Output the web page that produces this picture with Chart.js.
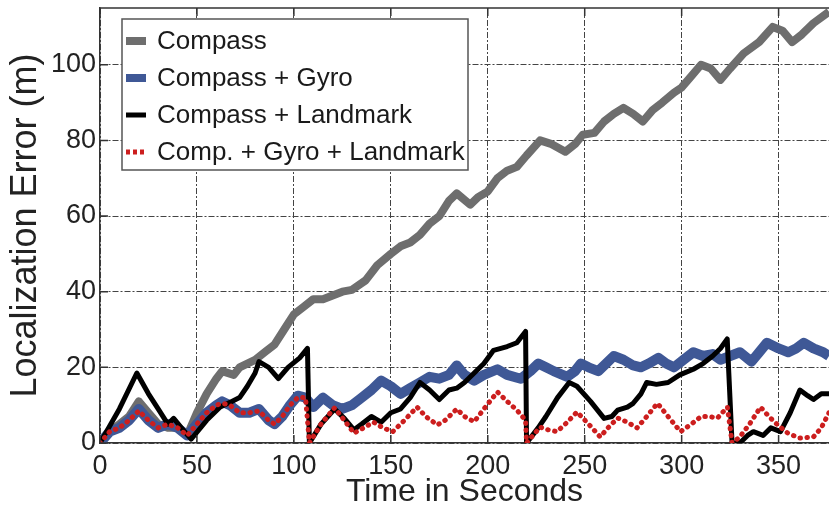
<!DOCTYPE html>
<html>
<head>
<meta charset="utf-8">
<script src="https://cdn.jsdelivr.net/npm/chart.js@4/dist/chart.umd.min.js"></script>
<style>
  html, body { margin: 0; padding: 0; background: #fff; }
  #wrap { width: 829px; height: 514px; }
</style>
</head>
<body>
<div id="wrap"><canvas id="errChart"></canvas></div>
<script>
// series labels
const seriesNames = ['Compass', 'Compass + Gyro', 'Compass + Landmark', 'Comp. + Gyro + Landmark'];

// Compass only (grey)
const compassT = [0, 5, 10, 15, 20, 25, 30, 35, 40, 45, 50, 55, 60, 63, 69, 72, 80, 85, 90, 95, 100, 105, 110, 115, 120, 125, 130, 137, 143, 150, 155, 160, 165, 170, 175, 180, 184, 191, 195, 200, 205, 210, 215, 220, 227, 233, 240, 245, 249, 255, 260, 265, 270, 275, 280, 285, 290, 296, 300, 305, 310, 315, 320, 325, 332, 340, 347, 352, 357, 362, 368, 376];
const compass  = [0, 3, 5, 7, 11, 8, 5, 4, 4, 2, 8, 13, 17, 19, 18, 20, 22, 24, 26, 30, 34, 36, 38, 38, 39, 40, 40.5, 43, 47, 50, 52, 53, 55, 58, 60, 64, 66, 63, 65, 66.5, 70, 72, 73, 76, 80, 79, 77, 79, 81.5, 82, 85, 87, 88.6, 87, 85, 88, 90, 92.6, 94, 97, 100, 99, 96, 99, 103, 106, 110, 109, 106, 108, 111, 114];

// Compass + Gyro (blue)
const gyroT = [0, 5, 10, 15, 20, 25, 30, 35, 40, 45, 50, 55, 60, 63, 67, 72, 77, 82, 87, 90, 94, 98, 102, 106, 110, 115, 120, 125, 130, 135, 140, 145, 150, 155, 160, 165, 170, 175, 180, 184, 188, 193, 198, 205, 210, 217, 222, 226, 230, 234, 241, 245, 248, 252, 257, 261, 265, 270, 275, 279, 283, 288, 292, 296, 301, 306, 311, 316, 320, 325, 330, 336, 340, 344, 350, 355, 359, 363, 368, 373, 376];
const gyro  = [0, 3, 4, 6, 9, 6, 4, 5, 4, 2, 5, 8, 10, 11, 10, 8, 8, 9, 6, 5, 7, 10, 12.5, 12, 9.5, 12, 10, 9, 10, 12, 14, 16.5, 15, 13, 14.5, 16, 17.5, 17, 18, 20.5, 18, 16.5, 18, 19.5, 18, 17, 19, 21, 20, 19, 17.5, 19, 21, 20, 19, 21, 23, 22, 20.5, 20, 21, 22.5, 21, 20, 22, 24, 23, 23.5, 22, 23, 24, 21.5, 24, 26.5, 25, 24, 25, 26.5, 25, 24, 23];

// Compass + Landmark (black)
const landmarkT = [0, 10, 19, 25, 30, 35, 38, 42, 47, 55, 62, 68, 72, 76, 80, 82, 87, 92, 97, 103, 107, 108, 114, 121, 126, 131, 135, 140, 145, 150, 155, 160, 165, 170, 175, 180, 184, 188, 193, 198, 203, 210, 215, 219.5, 220, 226, 230, 236, 242, 246, 253, 260, 264, 267, 272, 275, 279, 282, 287, 293, 299, 306, 311, 316, 320, 323.5, 326, 330, 334, 337, 342, 346, 351, 356, 361, 365, 368, 372, 376];
const landmark  = [0, 9, 18.5, 13, 9, 5, 6.5, 4, 1, 6, 9.5, 11, 12, 15, 18.5, 21.5, 20, 17, 20, 22.5, 25, 0, 5, 9, 6.5, 3.5, 5, 7, 5.5, 8, 9, 12, 16, 14, 11.5, 14, 14.5, 16, 18.5, 21, 24.5, 25.5, 26.5, 29.5, 0, 4, 7, 12, 16, 15, 11, 6.5, 7, 8.7, 9.5, 10.5, 13, 16, 15.5, 16, 18, 19.5, 21, 23, 25, 27.5, 0, 0, 2, 3, 2, 4, 3, 8, 14, 12.5, 11.5, 13, 13];

// Compass + Gyro + Landmark (red dotted)
const allT = [0, 5, 10, 15, 20, 25, 30, 35, 40, 45, 50, 55, 60, 63, 67, 72, 77, 82, 87, 90, 94, 98, 102, 106, 108, 114, 121, 126, 131, 136, 141, 146, 151, 157, 163.5, 168, 174, 178, 184, 188, 193, 198, 205, 210, 215, 219.5, 220, 227, 231, 235.7, 241, 246, 252, 258, 262, 267, 272, 277, 282, 287.5, 293, 299.4, 305, 310, 314, 318.5, 323.6, 326, 330, 335, 340.7, 345, 349.5, 355, 361, 368, 372, 376];
const allV = [0, 3, 4, 6, 8.5, 6, 4, 5, 4, 2, 5, 8, 10, 10.5, 10, 8, 8, 8.5, 6, 5, 7, 10, 12, 12, 0, 5, 9.3, 6, 2.6, 4, 5.5, 4, 3, 6, 9.5, 7, 4.8, 6, 9, 7, 5.6, 9, 13.5, 11, 8.7, 6, 0, 4.2, 3.5, 3, 5.5, 8.2, 5, 1.6, 4, 6.6, 5.5, 4, 7, 10.5, 7, 3, 5, 7, 7, 6.6, 9.5, 0, 1.6, 5, 9.5, 7, 4.8, 2.5, 1.3, 1.6, 4, 8];

const xTicks = [0, 50, 100, 150, 200, 250, 300, 350];
const yTicks = [0, 20, 40, 60, 80, 100];

const pts = (ts, vs) => ts.map((t, i) => ({ x: t, y: vs[i] }));

const FONT = 'Liberation Sans, Arial, Helvetica, sans-serif';

// legend box, grid tick marks and top border
const framePlugin = {
  id: 'frame',
  afterDatasetsDraw(chart) {
    const { ctx, chartArea: a, scales } = chart;
    ctx.save();
    ctx.strokeStyle = '#333';
    ctx.lineWidth = 1.5;
    ctx.beginPath();
    ctx.moveTo(a.left, a.top);
    ctx.lineTo(a.right, a.top);
    xTicks.forEach(v => {
      const px = scales.x.getPixelForValue(v);
      ctx.moveTo(px, a.bottom); ctx.lineTo(px, a.bottom - 8);
      ctx.moveTo(px, a.top); ctx.lineTo(px, a.top + 8);
    });
    yTicks.forEach(v => {
      const py = scales.y.getPixelForValue(v);
      ctx.moveTo(a.left, py); ctx.lineTo(a.left + 8, py);
    });
    ctx.stroke();

    // legend
    const lx = a.left + 22, ly = a.top + 11, lw = 346, lh = 151;
    ctx.fillStyle = '#fff';
    ctx.fillRect(lx, ly, lw, lh);
    ctx.strokeStyle = '#555';
    ctx.lineWidth = 1.5;
    ctx.strokeRect(lx, ly, lw, lh);
    ctx.font = '26px ' + FONT;
    ctx.textBaseline = 'middle';
    chart.data.datasets.forEach((ds, i) => {
      const y = ly + 22 + i * 37;
      ctx.save();
      ctx.strokeStyle = ds.borderColor;
      ctx.lineWidth = Math.min(ds.borderWidth, 8);
      ctx.lineCap = 'butt';
      if (ds.borderDash) ctx.setLineDash([4, 3]);
      ctx.beginPath();
      ctx.moveTo(lx + 4, y);
      ctx.lineTo(lx + 24, y);
      ctx.stroke();
      ctx.restore();
      ctx.fillStyle = '#1a1a1a';
      ctx.fillText(ds.label, lx + 35, y + 1);
    });
    ctx.restore();
  }
};

new Chart(document.getElementById('errChart'), {
  type: 'line',
  data: {
    datasets: [{
      label: seriesNames[0],
      data: pts(compassT, compass),
      borderColor: '#6e6e6e',
      borderWidth: 8,
      order: 4
    }, {
      label: seriesNames[1],
      data: pts(gyroT, gyro),
      borderColor: '#3f5896',
      borderWidth: 10,
      order: 3
    }, {
      label: seriesNames[2],
      data: pts(landmarkT, landmark),
      borderColor: '#000',
      borderWidth: 5,
      order: 2
    }, {
      label: seriesNames[3],
      data: pts(allT, allV),
      borderColor: '#cc1e1e',
      borderWidth: 5,
      borderDash: [0.5, 6.5],
      borderCapStyle: 'round',
      order: 1
    }]
  },
  options: {
    responsive: true,
    maintainAspectRatio: false,
    animation: false,
    layout: { padding: { top: 8, right: 0, left: 0, bottom: 0 } },
    elements: {
      point: { radius: 0 },
      line: { tension: 0, borderJoinStyle: 'round' }
    },
    plugins: { legend: { display: false }, tooltip: { enabled: false } },
    scales: {
      x: {
        type: 'linear',
        min: 0,
        max: 376,
        afterFit: s => { s.height = 71; s.paddingLeft = 0; s.paddingRight = 0; },
        afterBuildTicks: s => { s.ticks = xTicks.map(v => ({ value: v })); },
        ticks: { includeBounds: false, padding: 7, color: '#222', font: { family: FONT, size: 27 }, maxRotation: 0 },
        grid: { color: '#444', lineWidth: 1, drawTicks: false },
        border: { color: '#333', width: 1.5, dash: [6, 2, 2, 2] },
        title: { display: true, text: 'Time in Seconds', color: '#222', font: { family: FONT, size: 32 }, padding: { top: 0, bottom: 3 } }
      },
      y: {
        min: 0,
        max: 115,
        afterFit: s => { s.width = 100; s.paddingTop = 0; s.paddingBottom = 0; },
        afterBuildTicks: s => { s.ticks = yTicks.map(v => ({ value: v })); },
        ticks: { includeBounds: false, padding: 4, color: '#222', font: { family: FONT, size: 27 } },
        grid: { color: '#444', lineWidth: 1, drawTicks: false },
        border: { color: '#333', width: 1.5, dash: [6, 2, 2, 2] },
        title: { display: true, text: 'Localization Error (m)', color: '#222', font: { family: FONT, size: 36 }, padding: { top: 4, bottom: 0 } }
      }
    }
  },
  plugins: [framePlugin]
});
</script>
</body>
</html>
